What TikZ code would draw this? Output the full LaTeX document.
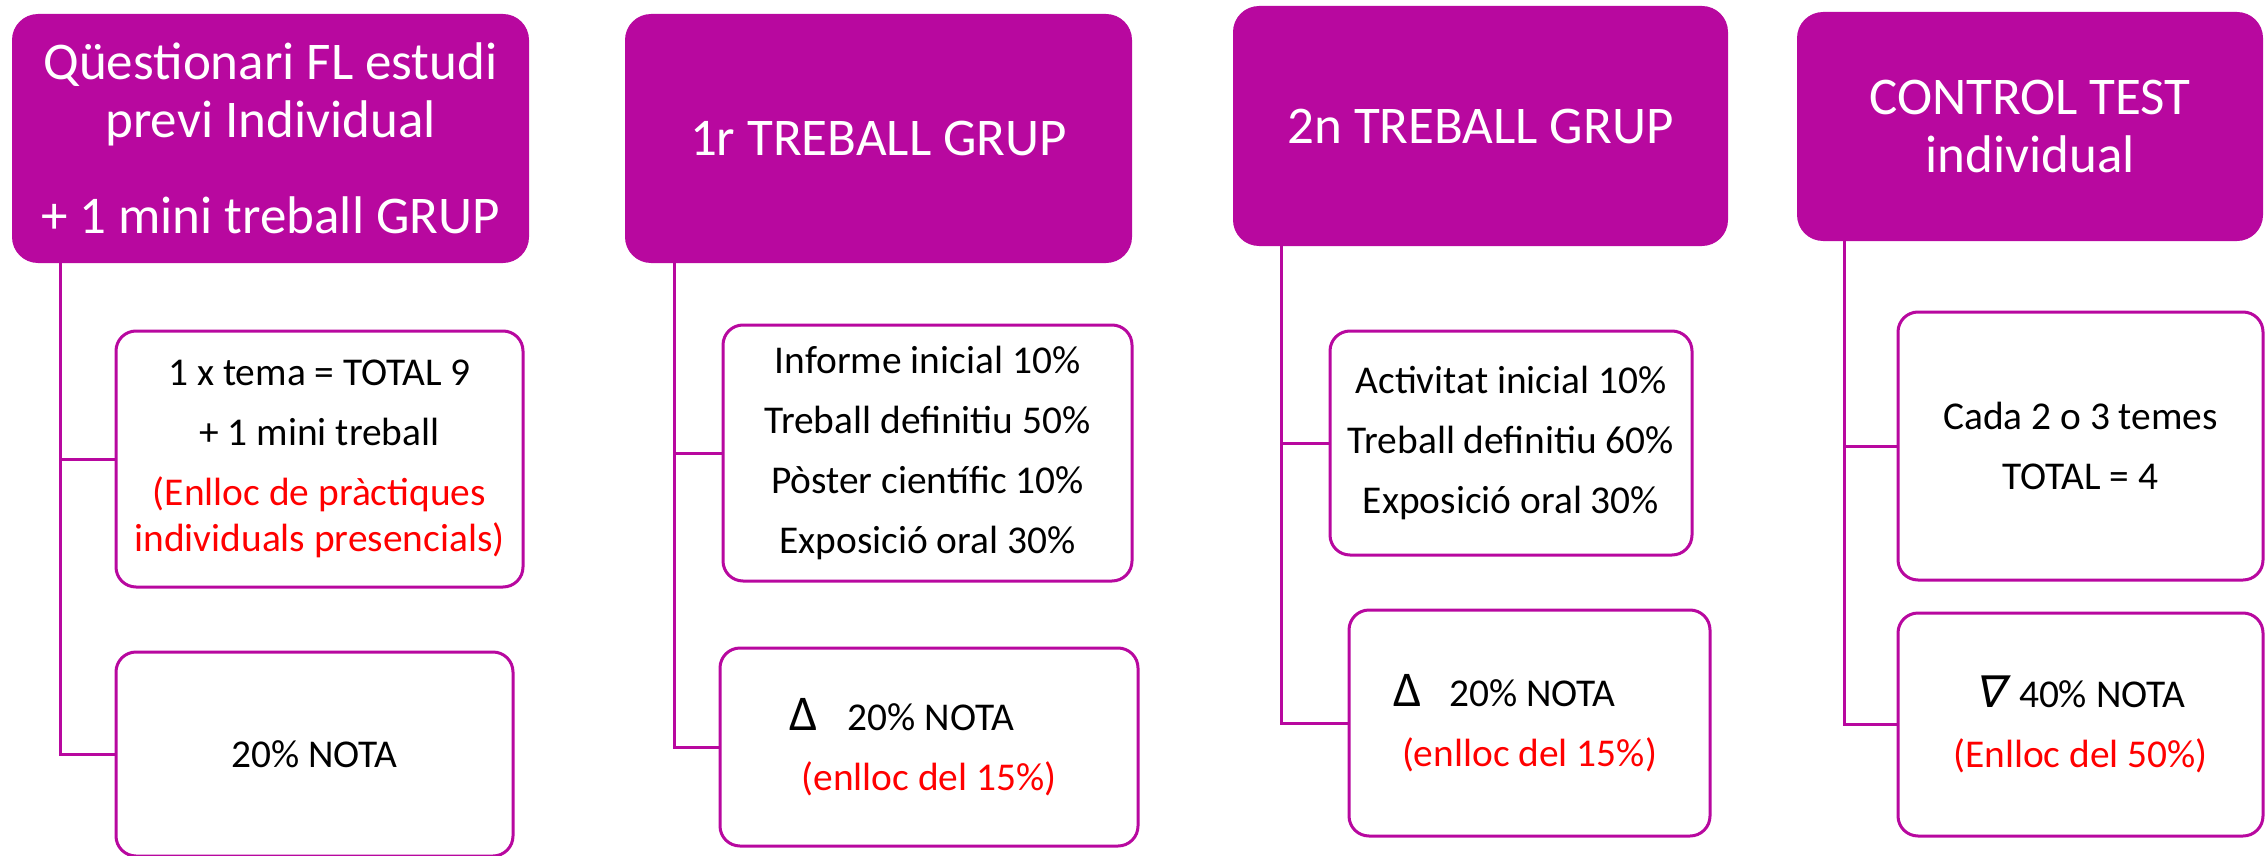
\documentclass[tikz,border=0pt]{standalone}
\usepackage{fontspec}
\setmainfont{Carlito}
\newfontfamily\nablafont[FakeSlant=0.2]{DejaVu Sans}
\definecolor{lila}{HTML}{B8089F}
\newcommand{\bigdelta}{{\fontsize{50}{60}\selectfont Δ}}
\tikzset{
	head/.style = {
		shape=rectangle,
		rounded corners=26pt,
		fill=lila,
		text=white,
		align=center,
		font=\fontsize{53}{58}\selectfont,
		inner sep=0pt
	},
	item/.style = {
		shape=rectangle,
		rounded corners=20pt,
		draw=lila,
		line width=3pt,
		fill=white,
		align=center,
		font=\fontsize{39.4}{60}\selectfont,
		inner sep=0pt
	},
	conn/.style = {
		draw=lila,
		line width=3pt
	}
}

\begin{document}
\begin{tikzpicture}[x=1pt,y=-1pt]
		\useasboundingbox (0,0) rectangle (2267,856);
		% column headers
		\node[head, minimum width=517pt, minimum height=249pt] (qst) at (270.5,138.5) {
			Qüestionari FL estudi\\
			previ Individual\\[38pt]
			+ 1 mini treball GRUP
		};
		\node[head, minimum width=507pt, minimum height=249pt] (grup1) at (878.5,138.5) {1r TREBALL GRUP};
		\node[head, minimum width=495pt, minimum height=240pt] (grup2) at (1480.5,126) {2n TREBALL GRUP};
		\node[head, minimum width=466pt, minimum height=229pt] (test) at (2030,126.5) {
			CONTROL TEST\\
			individual
		};
		% boxes below each header
		\node[item, minimum width=407pt, minimum height=256pt] (qst1) at (319.5,459) {
			1 x tema = TOTAL 9\\
			+ 1 mini treball\\
			\textcolor{red}{(Enlloc de pràctiques}\\[-14pt]
			\textcolor{red}{individuals presencials)}
		};
		\node[item, minimum width=397pt, minimum height=204pt] (qst2) at (314.5,754) {20\% NOTA};
		\node[item, minimum width=409pt, minimum height=256pt] (grup1a) at (927.5,453) {
			Informe inicial 10\%\\
			Treball definitiu 50\%\\
			Pòster científic 10\%\\
			Exposició oral 30\%
		};
		\node[item, align=left, minimum width=418pt, minimum height=198pt] (grup1b) at (929,747) {
			\hspace*{-12pt}\bigdelta\hspace{30pt}20\% NOTA\\
			\textcolor{red}{(enlloc del 15\%)}
		};
		\node[item, minimum width=362pt, minimum height=224pt] (grup2a) at (1511,443) {
			Activitat inicial 10\%\\
			Treball definitiu 60\%\\
			Exposició oral 30\%
		};
		\node[item, align=left, minimum width=361pt, minimum height=226pt] (grup2b) at (1529.5,723) {
			\hspace*{-9pt}\bigdelta\hspace{28pt}20\% NOTA\\
			\textcolor{red}{(enlloc del 15\%)}
		};
		\node[item, minimum width=365pt, minimum height=268pt] (test1) at (2080.5,446) {
			Cada 2 o 3 temes\\
			TOTAL = 4
		};
		\node[item, minimum width=365pt, minimum height=223pt] (test2) at (2080.5,724.5) {
			{\nablafont\fontsize{44}{60}\selectfont ∇}\hspace{14pt}40\% NOTA\\
			\textcolor{red}{(Enlloc del 50\%)}
		};
		% connectors
		\draw[conn] ([xshift=49pt]qst.south west) |- (qst1.west);
		\draw[conn] ([xshift=49pt]qst.south west) |- (qst2.west);
		\draw[conn] ([xshift=50pt]grup1.south west) |- (grup1a.west);
		\draw[conn] ([xshift=50pt]grup1.south west) |- (grup1b.west);
		\draw[conn] ([xshift=49pt]grup2.south west) |- (grup2a.west);
		\draw[conn] ([xshift=49pt]grup2.south west) |- (grup2b.west);
		\draw[conn] ([xshift=48pt]test.south west) |- (test1.west);
		\draw[conn] ([xshift=48pt]test.south west) |- (test2.west);
\end{tikzpicture}
\end{document}
